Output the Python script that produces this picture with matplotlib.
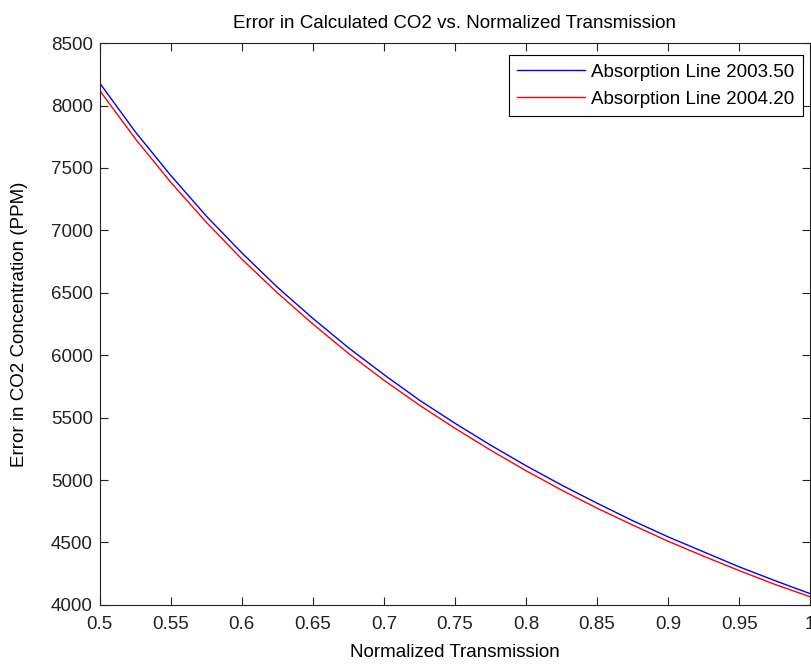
import matplotlib
matplotlib.use("Agg")
import matplotlib.pyplot as plt

plt.rcParams['font.family'] = ['Liberation Sans', 'DejaVu Sans']

# values
transmission = [0.5, 0.525, 0.55, 0.575, 0.6, 0.625, 0.65, 0.675, 0.7, 0.725,
                0.75, 0.775, 0.8, 0.825, 0.85, 0.875, 0.9, 0.925, 0.95, 0.975, 1.0]
err_2003 = [8180, 7790, 7440, 7115, 6820, 6545, 6295, 6060, 5845, 5640,
            5455, 5280, 5115, 4960, 4815, 4675, 4545, 4425, 4305, 4195, 4090]
err_2004 = [8120, 7735, 7385, 7065, 6770, 6500, 6250, 6015, 5800, 5600,
            5415, 5240, 5075, 4920, 4775, 4640, 4510, 4390, 4275, 4165, 4065]
labels = ['Absorption Line 2003.50', 'Absorption Line 2004.20']

fs = 13.5

fig = plt.figure(figsize=(8.11, 6.64), dpi=100)
ax = fig.add_axes([0.123, 0.089, 0.876, 0.846])

ax.plot(transmission, err_2003, color='blue', lw=1, label=labels[0])
ax.plot(transmission, err_2004, color='red', lw=1, label=labels[1])

ax.set_xlim(0.5, 1.0)
ax.set_ylim(4000, 8500)
ax.set_xticks([0.5, 0.55, 0.6, 0.65, 0.7, 0.75, 0.8, 0.85, 0.9, 0.95, 1.0])
ax.set_xticklabels(['0.5', '0.55', '0.6', '0.65', '0.7', '0.75', '0.8', '0.85', '0.9', '0.95', '1'])
ax.set_yticks(range(4000, 8501, 500))
ax.tick_params(direction='in', top=True, right=True, length=6, labelsize=fs,
               colors='#222222')
ax.tick_params(axis='x', pad=8)
ax.tick_params(axis='y', pad=5)
for s in ax.spines.values():
    s.set_color('#222222')

ax.set_title('Error in Calculated CO2 vs. Normalized Transmission', fontsize=fs, pad=11)
ax.set_xlabel('Normalized Transmission', fontsize=fs)
ax.set_ylabel('Error in CO2 Concentration (PPM)', fontsize=fs)
ax.yaxis.set_label_coords(-0.101, 0.5)
ax.xaxis.set_label_coords(0.5, -0.069)

leg = ax.legend(loc='upper right', bbox_to_anchor=(0.990, 0.979), borderaxespad=0,
                fontsize=fs, fancybox=False, framealpha=1, edgecolor='black',
                handlelength=3.6, handletextpad=0.35, labelspacing=0.55, borderpad=0.45)
leg.get_frame().set_linewidth(0.8)

fig.savefig('out.png', dpi=100)
